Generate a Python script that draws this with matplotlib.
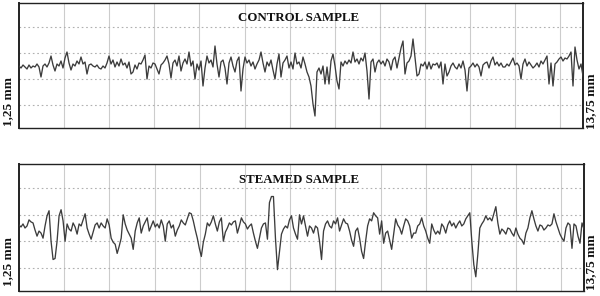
import numpy as np
import matplotlib
matplotlib.use("Agg")
import matplotlib.pyplot as plt

control = [
    0, -2, 1, -1, -3, 1, -2, 0, -1, 2,
    -1, -11, 0, 2, -1, 3, 10, 1, -5, 2,
    0, 5, -2, 8, 14, 3, -4, 2, 0, 5,
    2, 9, 2, 4, -8, 1, 2, 0, -1, 1,
    -2, -3, 0, -2, 3, 10, 2, 6, -1, 4,
    0, 7, 1, 3, -2, 4, -8, -6, 1, -3,
    3, 2, 6, 11, -13, 0, -2, 3, 2, -3,
    -8, 1, 3, 6, 10, 2, -12, 3, 6, 0,
    10, -5, 3, 7, 2, 14, 0, 5, -13, 2,
    -4, 5, -20, -2, 10, 3, 6, -1, 20, 2,
    -11, 4, 6, -2, -18, 3, 9, 0, -6, 5,
    9, -25, -3, 9, 3, 6, 0, 4, -3, 2,
    6, 14, 3, -6, 4, 0, 6, -4, -13, 2,
    12, -11, 3, 6, 10, -2, 4, -3, 13, 2,
    4, -2, 9, 2, -6, -11, -20, -38, -50, -6,
    -2, -8, 0, -18, -1, -18, 5, 12, 0, -15,
    -23, 4, 0, 5, 2, 6, 3, 14, 4, 7,
    2, 8, 5, 13, -5, -33, 4, 7, -6, 3,
    6, 2, 5, 0, 7, 4, -4, 6, 9, -2,
    8, 18, 25, -8, 3, 5, 10, 27, 8, -10,
    -8, 2, 0, 4, -3, 4, -3, 2, 1, 3,
    -2, 4, -18, 2, -10, -6, 0, 3, -1, -3,
    2, -2, 5, -4, -25, -2, 0, 3, -1, 2,
    -1, -10, 1, 3, 4, -2, 5, 9, 1, 4,
    0, 3, -1, -1, 2, 0, 4, 8, 1, 3,
    0, -13, 2, 7, 0, 4, 1, -2, 0, 3,
    -1, 5, 2, 6, 10, -18, 3, -20, 2, 4,
    7, 9, 5, 8, 7, 10, 14, -20, 19, 6,
    -3, 2, -10,
]

steamed = [
    3, 1, 4, 0, 2, 8, 6, 5, -2, -8,
    -3, -5, -10, 2, 12, 17, -13, -31, -30, -13,
    12, 18, 7, -13, 4, -1, -3, 5, 1, -6,
    4, 2, 8, 14, 0, -6, -11, -4, 3, 5,
    0, 5, 2, 0, 9, 3, -10, -14, -16, -25,
    -18, -10, 13, 4, -2, -6, -10, -21, -3, 5,
    10, -5, 2, 6, 10, -3, 2, 7, 1, 4,
    0, 8, 2, -13, 4, 7, 0, 3, -8, -2,
    2, 8, 5, 3, 9, 15, 14, 7, -2, -10,
    -20, -28, -14, -6, 5, 2, 6, 12, 4, -3,
    6, 10, -13, -4, 0, 5, 3, 6, 7, -5,
    2, 10, 6, 4, -1, 2, 4, -5, -13, -20,
    -10, 0, 4, 5, -11, 25, 31, 31, -10, -41,
    -23, -6, -1, 2, 0, 8, 12, 0, -6, -11,
    13, 4, 12, 2, -8, 2, 0, -5, 2, 0,
    -13, -31, -3, 4, 7, 2, 0, 7, 4, 10,
    -3, 3, 9, 5, 4, -3, -12, -18, -3, 0,
    -10, -23, -30, -13, 2, 9, 7, 15, 12, 10,
    -6, 7, -15, -5, -3, -12, -21, -6, 9, 3,
    0, -6, 2, 9, 7, 2, -10, -5, -5, 2,
    4, 10, 2, -3, -10, -15, 4, -2, -6, -3,
    -6, 4, 1, -5, 3, 7, 2, 5, 0, 4,
    7, 2, 4, 9, 12, 15, -13, -36, -48, -26,
    0, 4, 7, 12, 8, 10, 7, 14, 21, 5,
    -6, -1, -3, -6, 0, -1, -5, -8, 0, -6,
    -10, -12, -16, -5, 0, 10, 17, 9, 2, -3,
    3, 2, -2, 0, 3, 2, 4, 14, 6, 0,
    -6, -10, -13, 0, 5, 3, -20, 4, 2, -8,
    -15, 5, -1,
]

titles = ["CONTROL SAMPLE", "STEAMED SAMPLE"]
x_start_label = "1,25 mm"
x_end_label = "13,75 mm"
x_start, x_end = 1.25, 13.75
vgrid = [2.25, 3.25, 4.25, 5.25, 6.25, 7.25, 8.25, 9.25, 10.25, 11.25, 12.25, 13.25]
hgrid = [-39, -13, 13, 39]

serif = ["Liberation Serif", "DejaVu Serif"]

fig = plt.figure(figsize=(6.0, 2.96), dpi=100)
fig.patch.set_facecolor("white")

W, H = 600.0, 296.0
panels = [
    # (left px, top px, right px, bottom px, title y axes frac, label center y px)
    (19, 3, 583, 128, 0.88, 101),
    (19, 164, 584, 291, 0.874, 262),
]

for k, (series, title) in enumerate(zip([control, steamed], titles)):
    l, t, r, b, ty, ly = panels[k]
    ax = fig.add_axes([l / W, 1 - b / H, (r - l) / W, (b - t) / H])
    ax.set_xlim(x_start, x_end)
    ax.set_ylim(-62, 63)
    for gx in vgrid:
        ax.axvline(gx, color="#cccccc", lw=0.8, zorder=1)
    for gy in hgrid:
        ax.axhline(gy, color="#b0b0b0", lw=0.8, ls=(0, (1.5, 2.5)), zorder=1)
    xs = np.linspace(x_start, x_end, len(series))
    ax.plot(xs, series, color="#3c3c3c", lw=0.95, zorder=3)
    ax.set_xticks([])
    ax.set_yticks([])
    for side, sp in ax.spines.items():
        sp.set_color("#222222")
        sp.set_linewidth(1.4 if side in ("left", "right") else 1.0)
    ax.text(0.495, ty, title, transform=ax.transAxes, ha="center", va="center",
            fontsize=9.3, fontweight="bold", family=serif, color="#111111", zorder=4)
    fig.text(8.5 / W, 1 - ly / H, x_start_label, rotation=90, ha="center", va="center",
             fontsize=9.5, fontweight="bold", family=serif, color="#111111")
    fig.text(591 / W, 1 - ly / H, x_end_label, rotation=90, ha="center", va="center",
             fontsize=9.5, fontweight="bold", family=serif, color="#111111")

fig.savefig("out.png", dpi=100, facecolor="white")
